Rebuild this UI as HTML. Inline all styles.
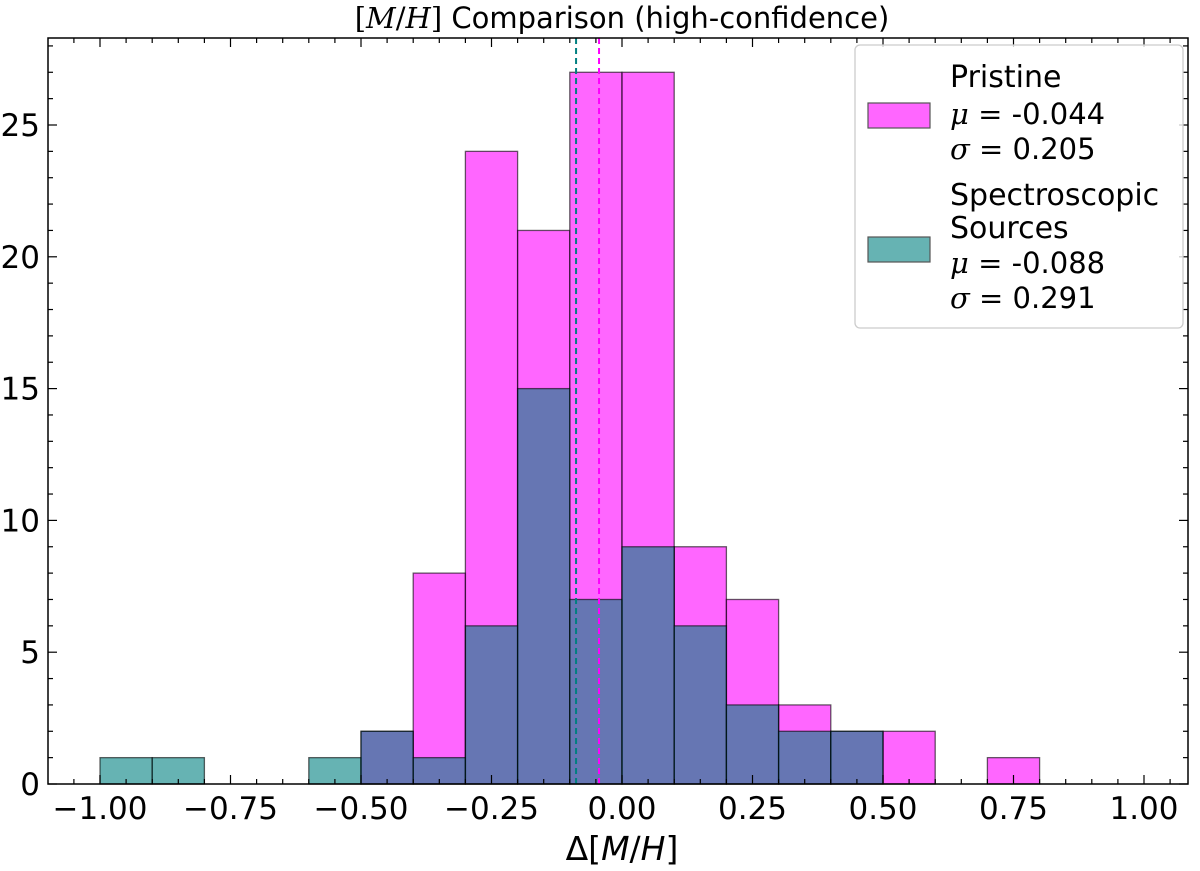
<!DOCTYPE html>
<html><head><meta charset="utf-8"><style>
body{margin:0;background:#fff;}
svg text{font-family:"DejaVu Sans","Liberation Sans",sans-serif;}
</style></head><body>
<svg id="chart" width="1200" height="866" xmlns="http://www.w3.org/2000/svg">
<g id="bars"></g><g id="axes"></g>
</svg>
<script>
const binEdges=[-1.0,-0.9,-0.8,-0.7,-0.6,-0.5,-0.4,-0.3,-0.2,-0.1,0.0,0.1,0.2,0.3,0.4,0.5,0.6,0.7,0.8,0.9,1.0];
const pristineCounts=[0,0,0,0,0,2,8,24,21,27,27,9,7,3,2,2,0,1,0,0];
const specCounts=[1,1,0,0,1,2,1,6,15,7,9,6,3,2,2,0,0,0,0,0];
const pristineMean=-0.044, specMean=-0.088;
const xTicks=[-1.00,-0.75,-0.50,-0.25,0.00,0.25,0.50,0.75,1.00];
const yTicks=[0,5,10,15,20,25];
const L=48,R=1188,T=38,B=784;
const X=v=>622+v*522;
const Y=v=>B-v*26.36;
const NS="http://www.w3.org/2000/svg";
function mk(tag,attrs,parent){const e=document.createElementNS(NS,tag);for(const k in attrs)e.setAttribute(k,attrs[k]);parent.appendChild(e);return e;}
const bars=document.getElementById('bars'),axes=document.getElementById('axes');
function drawSeries(counts,fill,name){
  counts.forEach((c,i)=>{ if(c<=0)return;
    const x0=X(binEdges[i]),x1=X(binEdges[i+1]);
    const r=mk('rect',{x:x0,y:Y(c),width:x1-x0,height:Y(0)-Y(c),fill:fill,'fill-opacity':0.6,stroke:'#000','stroke-opacity':0.6,'stroke-width':1.3},bars);
    
    
  });
}
drawSeries(pristineCounts,'#ff00ff','pristine');
drawSeries(specCounts,'#008080','spectroscopic');
let m1=mk('line',{x1:X(specMean),x2:X(specMean),y1:T,y2:B,stroke:'#008080','stroke-width':2,'stroke-dasharray':'6,4'},bars);

let m2=mk('line',{x1:X(pristineMean),x2:X(pristineMean),y1:T,y2:B,stroke:'#ff00ff','stroke-width':2,'stroke-dasharray':'6,4'},bars);

let fr=mk('rect',{x:L,y:T,width:R-L,height:B-T,fill:'none',stroke:'#000','stroke-width':1.5},axes);

for(let v=-1.1;v<=1.1001;v+=0.05){const x=X(v);if(x<L||x>R)continue;
  const major=Math.abs(Math.round(v*4)/4-v)<1e-6;const len=major?9:5;
  mk('line',{x1:x,x2:x,y1:B,y2:B-len,stroke:'#000','stroke-width':1.2},axes);
  mk('line',{x1:x,x2:x,y1:T,y2:T+len,stroke:'#000','stroke-width':1.2},axes);}
for(let v=0;v<=28;v++){const y=Y(v);if(y<T)continue;const len=v%5==0?9:5;
  mk('line',{x1:L,x2:L+len,y1:y,y2:y,stroke:'#000','stroke-width':1.2},axes);
  mk('line',{x1:R,x2:R-len,y1:y,y2:y,stroke:'#000','stroke-width':1.2},axes);}
xTicks.forEach(v=>{const t=mk('text',{x:X(v),y:B+35,'font-size':31,'text-anchor':'middle'},axes);
  t.textContent=(v<0?'\u2212':'')+Math.abs(v).toFixed(2);
  });
yTicks.forEach(v=>{const t=mk('text',{x:L-8,y:Y(v)+11,'font-size':31,'text-anchor':'end'},axes);
  t.textContent=v;});
</script>
<svg width="1200" height="866" style="position:absolute;left:0;top:0" xmlns="http://www.w3.org/2000/svg">
<text x="622" y="28" font-size="29" text-anchor="middle"><tspan font-family="DejaVu Serif">[<tspan font-style="italic">M</tspan>/<tspan font-style="italic">H</tspan>]</tspan> Comparison (high-confidence)</text>
<text x="622" y="860" font-size="33" text-anchor="middle" font-family="DejaVu Serif">Δ[<tspan font-style="italic">M</tspan>/<tspan font-style="italic">H</tspan>]</text>
<g>
<rect x="855" y="45" width="328" height="283" rx="5" fill="#fff" fill-opacity="0.8" stroke="#ccc" stroke-width="1.3"/>
<rect x="868" y="103" width="62" height="25" fill="#ff66ff" stroke="#555" stroke-width="1.2"/>
<text x="950" y="87" font-size="30">Pristine</text>
<text x="950" y="124" font-size="29"><tspan font-family="DejaVu Serif" font-style="italic">μ</tspan><tspan font-family="DejaVu Serif"> = </tspan>-0.044</text>
<text x="950" y="159" font-size="29"><tspan font-family="DejaVu Serif" font-style="italic">σ</tspan><tspan font-family="DejaVu Serif"> = </tspan>0.205</text>
<rect x="868" y="237" width="62" height="25" fill="#66b3b3" stroke="#555" stroke-width="1.2"/>
<text x="950" y="205" font-size="30">Spectroscopic</text>
<text x="950" y="238" font-size="30">Sources</text>
<text x="950" y="273" font-size="29"><tspan font-family="DejaVu Serif" font-style="italic">μ</tspan><tspan font-family="DejaVu Serif"> = </tspan>-0.088</text>
<text x="950" y="308" font-size="29"><tspan font-family="DejaVu Serif" font-style="italic">σ</tspan><tspan font-family="DejaVu Serif"> = </tspan>0.291</text>
</g>
</svg>
</body></html>
